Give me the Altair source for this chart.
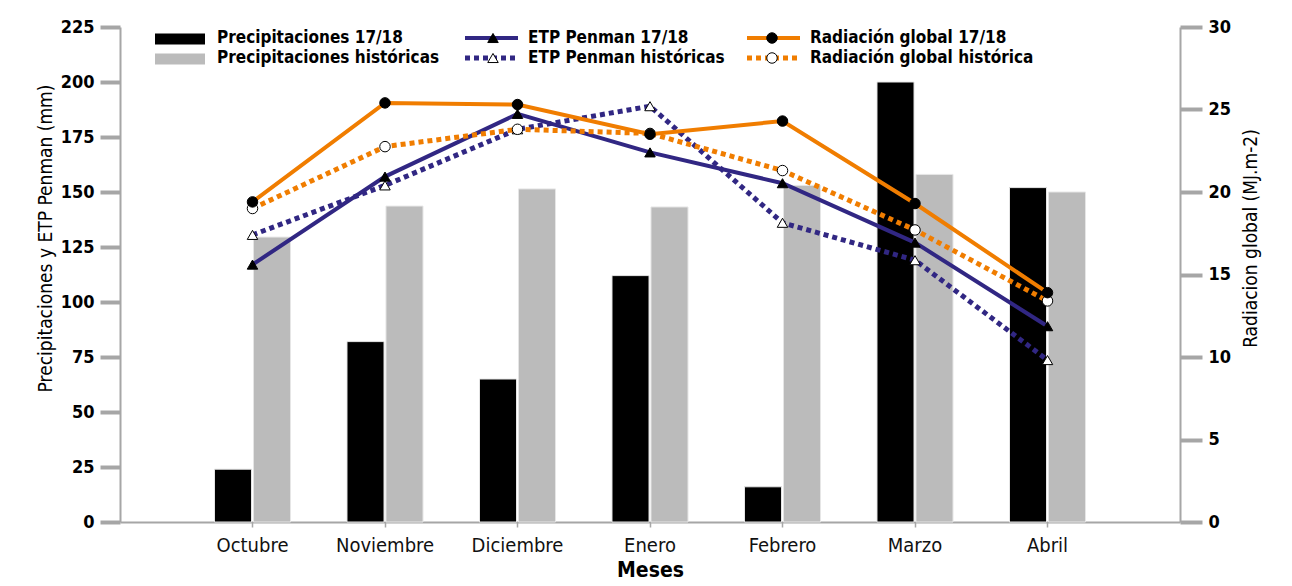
import altair as alt
import pandas as pd

# ---------------- data ----------------
meses = ["Octubre", "Noviembre", "Diciembre", "Enero", "Febrero", "Marzo", "Abril"]
precip_1718 = [24, 82, 65, 112, 16, 200, 152]
precip_hist = [129.5, 143.6, 151.4, 143.2, 153, 158, 150]
etp_1718 = [117, 157, 185.5, 168, 154, 127, 89]
etp_hist = [130.5, 153, 178.5, 189, 136, 119, 73.6]
rad_1718 = [19.4, 25.4, 25.3, 23.5, 24.3, 19.3, 13.9]
rad_hist = [19.0, 22.75, 23.8, 23.55, 21.3, 17.7, 13.4]

serie_p = ["Precipitaciones 17/18", "Precipitaciones históricas"]

left_ticks = [0, 25, 50, 75, 100, 125, 150, 175, 200, 225]
right_ticks = [0, 5, 10, 15, 20, 25, 30]

# ---------------- styling ----------------
FONT = "DejaVu Sans Condensed, Liberation Sans Narrow, DejaVu Sans, sans-serif"
ORANGE = "#F07D00"
PURPLE = "#312783"
GRAY_AX = "#A6A6A6"
GRAY_BAR = "#BBBBBB"

bars_df = pd.DataFrame({
    "mes": meses * 2,
    "serie": [serie_p[0]] * 7 + [serie_p[1]] * 7,
    "valor": precip_1718 + precip_hist,
})

def line_df(vals):
    return pd.DataFrame({"mes": meses, "valor": vals})

x_enc = alt.X(
    "mes:N", sort=meses,
    scale=alt.Scale(paddingInner=0.4264, paddingOuter=0.7132),
    axis=alt.Axis(title="Meses", labelAngle=0, domainColor=GRAY_AX, domainWidth=2,
                  tickColor=GRAY_AX, tickSize=5, tickWidth=1.5, labelPadding=8,
                  labelFont=FONT, labelFontSize=20, labelColor="#111",
                  titleFont=FONT, titleFontSize=21, titleFontWeight="bold",
                  titlePadding=4, titleColor="black"),
)

y_left = alt.Y(
    "valor:Q",
    scale=alt.Scale(domain=[0, 225], nice=False),
    axis=alt.Axis(title="Precipitaciones y ETP Penman (mm)", values=left_ticks,
                  orient="left", domainColor=GRAY_AX, domainWidth=2,
                  tickColor=GRAY_AX, tickWidth=4, tickSize=20, labelPadding=6,
                  labelFont=FONT, labelFontSize=18, labelFontWeight="bold",
                  labelColor="black", titleFont=FONT, titleFontSize=19,
                  titleFontWeight="normal", titleColor="black", titlePadding=5,
                  titleY=211),
)

y_right = alt.Y(
    "valor:Q",
    scale=alt.Scale(domain=[0, 30], nice=False),
    axis=alt.Axis(title="Radiacion global (MJ.m-2)", values=right_ticks,
                  orient="right", domainColor=GRAY_AX, domainWidth=2,
                  tickColor=GRAY_AX, tickWidth=4, tickSize=22, labelPadding=6,
                  labelFont=FONT, labelFontSize=18, labelFontWeight="bold",
                  labelColor="black", titleFont=FONT, titleFontSize=19,
                  titleFontWeight="normal", titleColor="black",
                  titleAngle=270, titleBaseline="middle", titleAlign="center",
                  titleX=70, titleY=211),
)

bars = alt.Chart(bars_df).mark_bar(stroke="#E6E6E6", strokeWidth=1).encode(
    x=x_enc,
    xOffset=alt.XOffset("serie:N", sort=serie_p,
                        scale=alt.Scale(paddingInner=0.05, paddingOuter=0)),
    y=y_left,
    color=alt.Color("serie:N", sort=serie_p,
                    scale=alt.Scale(domain=serie_p, range=["black", GRAY_BAR]),
                    legend=None),
)

def series_layers(vals, y, color, dashed, shape, filled_marker):
    base = alt.Chart(line_df(vals)).encode(x=x_enc, y=y)
    if dashed:
        line = base.mark_line(color=color, strokeWidth=5, strokeDash=[5, 4], strokeCap="butt")
    else:
        line = base.mark_line(color=color, strokeWidth=4)
    pts = base.mark_point(shape=shape, filled=True,
                          fill="black" if filled_marker else "white",
                          stroke="black", strokeWidth=1, opacity=1, size=110)
    return [line, pts]

left = alt.layer(
    bars,
    *series_layers(etp_hist, y_left, PURPLE, True, "triangle-up", False),
    *series_layers(etp_1718, y_left, PURPLE, False, "triangle-up", True),
)
right = alt.layer(
    *series_layers(rad_hist, y_right, ORANGE, True, "circle", False),
    *series_layers(rad_1718, y_right, ORANGE, False, "circle", True),
)

# ---------------- manual legend ----------------
dummy = pd.DataFrame({"k": [0]})

def leg_rect(x0, x1, yc, color):
    return alt.Chart(dummy).mark_rect(color=color).encode(
        x=alt.value(x0), x2=alt.value(x1), y=alt.value(yc - 5.5), y2=alt.value(yc + 5.5))

def leg_line(x0, x1, yc, color, dashed):
    if dashed:
        m = alt.Chart(dummy).mark_rule(color=color, strokeWidth=5, strokeDash=[5, 4], strokeCap="butt")
    else:
        m = alt.Chart(dummy).mark_rule(color=color, strokeWidth=4)
    return m.encode(x=alt.value(x0), x2=alt.value(x1), y=alt.value(yc))

def leg_pt(xc, yc, shape, filled):
    return alt.Chart(dummy).mark_point(shape=shape, filled=True,
                                       fill="black" if filled else "white",
                                       stroke="black", strokeWidth=1, opacity=1,
                                       size=110).encode(x=alt.value(xc), y=alt.value(yc))

def leg_text(xl, yc, label):
    return alt.Chart(dummy).mark_text(align="left", baseline="middle", font=FONT,
                                      fontSize=17, fontWeight="bold", color="black",
                                      text=label).encode(x=alt.value(xl), y=alt.value(yc))

R1, R2 = 11, 31
legend = [
    leg_rect(35, 85, R1 + 1, "black"), leg_text(97, R1, "Precipitaciones 17/18"),
    leg_rect(35, 85, R2 + 1, GRAY_BAR), leg_text(97, R2, "Precipitaciones históricas"),
    leg_line(345, 398, R1, PURPLE, False), leg_pt(373, R1, "triangle-up", True),
    leg_text(408, R1, "ETP Penman 17/18"),
    leg_line(345, 398, R2, PURPLE, True), leg_pt(373, R2, "triangle-up", False),
    leg_text(408, R2, "ETP Penman históricas"),
    leg_line(627, 680, R1, ORANGE, False), leg_pt(652, R1, "circle", True),
    leg_text(690, R1, "Radiación global 17/18"),
    leg_line(627, 680, R2, ORANGE, True), leg_pt(652, R2, "circle", False),
    leg_text(690, R2, "Radiación global histórica"),
]

chart = alt.layer(left, right, *legend).resolve_scale(
    y="independent"
).properties(
    width=1060, height=495,
    autosize=alt.AutoSizeParams(type="none"),
    padding={"left": 112, "top": 19, "right": 89, "bottom": 62},
).configure_view(stroke=None).configure_axis(grid=False)

chart.save("out.html", embed_options={"renderer": "svg", "actions": False})
